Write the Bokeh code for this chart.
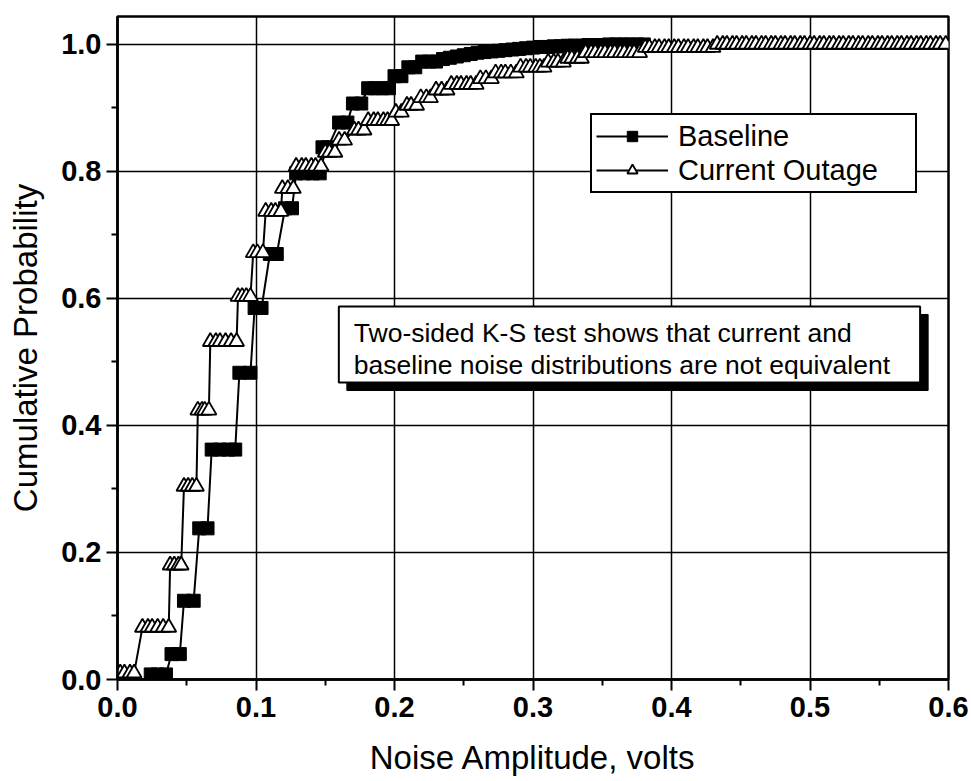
from bokeh.plotting import figure
from bokeh.models import (FixedTicker, PrintfTickFormatter, Range1d, Legend,
                          LegendItem, BoxAnnotation, Label)
from bokeh.embed import file_html
from bokeh.resources import INLINE

# ---------------- data ----------------
# Baseline: cumulative level and the amplitudes plotted at that level
baseline_levels = [0.008, 0.040, 0.124, 0.238, 0.362, 0.483, 0.585, 0.670,
                   0.742, 0.797, 0.838, 0.877, 0.907, 0.931, 0.950, 0.964,
                   0.973, 0.977, 0.979, 0.981, 0.983, 0.985, 0.987, 0.988,
                   0.989, 0.990, 0.991, 0.992, 0.993, 0.994, 0.995, 0.996,
                   0.996, 0.997, 0.997, 0.998, 0.998, 0.998, 0.999, 0.999,
                   0.999, 1.000, 1.000, 1.000, 1.000, 1.000, 1.000]
baseline_x = [[0.024, 0.029, 0.035], [0.039, 0.045], [0.048, 0.055],
              [0.059, 0.065], [0.068, 0.074, 0.080, 0.085], [0.088, 0.096],
              [0.099, 0.104], [0.110, 0.115], [0.121, 0.126],
              [0.129, 0.135, 0.141, 0.146], [0.148, 0.152], [0.160, 0.166],
              [0.170, 0.176], [0.181, 0.186, 0.191, 0.196], [0.200, 0.205],
              [0.210, 0.215], [0.220, 0.225, 0.230], [0.235], [0.240],
              [0.245], [0.250], [0.255], [0.260], [0.265], [0.270], [0.275],
              [0.280], [0.285], [0.290], [0.295], [0.300], [0.305], [0.310],
              [0.315], [0.320], [0.325], [0.330], [0.335], [0.340], [0.345],
              [0.350], [0.355], [0.360], [0.365], [0.370], [0.375], [0.380]]

# Current Outage
outage_levels = [0.010, 0.082, 0.180, 0.304, 0.424, 0.532, 0.603, 0.672,
                 0.737, 0.773, 0.808, 0.830, 0.849, 0.865, 0.880, 0.893,
                 0.904, 0.916, 0.928, 0.937, 0.946, 0.955, 0.964, 0.972,
                 0.978, 0.987, 0.995, 1.000]
outage_x = [[0.002, 0.005, 0.009, 0.012],
            [0.018, 0.022, 0.025, 0.029, 0.033, 0.037],
            [0.038, 0.041, 0.044, 0.046],
            [0.048, 0.051, 0.054, 0.057],
            [0.058, 0.061, 0.063, 0.066],
            [0.067, 0.071, 0.074, 0.078, 0.082, 0.086],
            [0.087, 0.090, 0.093, 0.096],
            [0.098, 0.101, 0.105],
            [0.107, 0.111, 0.114, 0.118],
            [0.119, 0.123, 0.127],
            [0.129, 0.133, 0.136, 0.140, 0.143, 0.147],
            [0.150, 0.153, 0.157],
            [0.160, 0.164],
            [0.171, 0.174, 0.178],
            [0.181, 0.185, 0.188, 0.192, 0.195, 0.198],
            [0.201, 0.205],
            [0.209, 0.212, 0.216],
            [0.219, 0.223, 0.226],
            [0.230, 0.234, 0.238],
            [0.241, 0.245, 0.248, 0.252, 0.255, 0.259],
            [0.262, 0.266, 0.270],
            [0.273, 0.277, 0.280, 0.284, 0.288],
            [0.291, 0.295, 0.298, 0.302, 0.305, 0.308],
            [0.311, 0.315, 0.318, 0.322],
            [0.325, 0.328, 0.332, 0.335],
            [0.338, 0.342, 0.345, 0.349, 0.352, 0.356, 0.359, 0.363, 0.366,
             0.370, 0.373, 0.377],
            [0.381, 0.384, 0.388, 0.391, 0.395, 0.398, 0.402, 0.405, 0.409,
             0.412, 0.416, 0.419, 0.423, 0.426, 0.430],
            [0.433, 0.437, 0.440, 0.444, 0.447, 0.451, 0.454, 0.458, 0.461,
             0.465, 0.468, 0.472, 0.475, 0.479, 0.482, 0.486, 0.489, 0.493,
             0.496, 0.500, 0.503, 0.507, 0.510, 0.514, 0.517, 0.521, 0.524,
             0.528, 0.531, 0.535, 0.538, 0.542, 0.545, 0.549, 0.552, 0.556,
             0.559, 0.563, 0.566, 0.570, 0.573, 0.577, 0.580, 0.584, 0.587,
             0.591, 0.594, 0.598]]

x_ticks = [0.0, 0.1, 0.2, 0.3, 0.4, 0.5, 0.6]
x_minor = [0.05, 0.15, 0.25, 0.35, 0.45, 0.55]
y_ticks = [0.0, 0.2, 0.4, 0.6, 0.8, 1.0]
y_minor = [0.1, 0.3, 0.5, 0.7, 0.9]

x_label = "Noise Amplitude, volts"
y_label = "Cumulative Probability"
series_names = ["Baseline", "Current Outage"]
note_lines = ["Two-sided K-S test shows that current and",
              "baseline noise distributions are not equivalent"]

# ---------------- flatten ----------------
bx = [x for xs in baseline_x for x in xs]
by = [lv for lv, xs in zip(baseline_levels, baseline_x) for _ in xs]
cx = [x for xs in outage_x for x in xs]
cy = [lv for lv, xs in zip(outage_levels, outage_x) for _ in xs]

FONT = "Liberation Sans"

p = figure(width=971, height=781, x_range=Range1d(0, 0.6),
           y_range=Range1d(0, 1.044), output_backend="svg",
           toolbar_location=None, min_border_left=117, min_border_right=23,
           min_border_top=16, min_border_bottom=102)
p.background_fill_color = "white"
p.border_fill_color = "white"
p.outline_line_color = "black"
p.outline_line_width = 2.5
p.outline_line_alpha = 1.0

p.xaxis.ticker = FixedTicker(ticks=x_ticks, minor_ticks=x_minor)
p.yaxis.ticker = FixedTicker(ticks=y_ticks, minor_ticks=y_minor)
p.xaxis.formatter = PrintfTickFormatter(format="%.1f")
p.yaxis.formatter = PrintfTickFormatter(format="%.1f")
for ax in (p.xaxis, p.yaxis):
    ax.axis_line_width = 2.5
    ax.axis_line_color = "black"
    ax.major_tick_line_width = 2
    ax.minor_tick_line_width = 2
    ax.major_tick_line_color = "black"
    ax.minor_tick_line_color = "black"
    ax.major_tick_in = 0
    ax.minor_tick_in = 0
    ax.major_tick_out = 11
    ax.minor_tick_out = 6
    ax.major_label_text_font = FONT
    ax.major_label_text_font_size = "29px"
    ax.major_label_text_font_style = "bold"
    ax.major_label_text_color = "black"
    ax.axis_label_text_font = FONT
    ax.axis_label_text_font_size = "33px"
    ax.axis_label_text_font_style = "normal"
    ax.axis_label_text_color = "black"
p.xaxis.axis_label = x_label
p.yaxis.axis_label = y_label
p.xaxis.major_label_standoff = 6
p.yaxis.major_label_standoff = 5
p.xaxis.axis_label_standoff = 19
p.yaxis.axis_label_standoff = 14

p.xgrid.ticker = FixedTicker(ticks=x_ticks)
p.ygrid.ticker = FixedTicker(ticks=y_ticks)
for g in (p.xgrid, p.ygrid):
    g.grid_line_color = "black"
    g.grid_line_width = 1.5
    g.grid_line_alpha = 1.0

bl_line = p.line(bx, by, line_color="black", line_width=2)
bl_pts = p.scatter(bx, by, marker="square", size=13, fill_color="black",
                   line_color="black", line_width=1)
co_line = p.line(cx, cy, line_color="black", line_width=2)
co_pts = p.scatter(cx, cy, marker="triangle", size=15, fill_color="white",
                   line_color="black", line_width=1.8)

# annotation box with drop shadow
shadow = BoxAnnotation(left=0.1656, right=0.5853, top=0.5748, bottom=0.4551,
                       fill_color="black", fill_alpha=1.0, line_color="black",
                       line_alpha=1.0, line_width=1)
box = BoxAnnotation(left=0.1598, right=0.5795, top=0.5874, bottom=0.4677,
                    fill_color="white", fill_alpha=1.0, line_color="black",
                    line_alpha=1.0, line_width=2)
p.add_layout(shadow)
p.add_layout(box)
for txt, yy in zip(note_lines, [0.545, 0.496]):
    p.add_layout(Label(x=0.1706, y=yy, text=txt, text_font=FONT,
                       text_font_size="26.5px", text_baseline="middle",
                       text_color="black"))

legend = Legend(items=[LegendItem(label=series_names[0], renderers=[bl_line, bl_pts]),
                       LegendItem(label=series_names[1], renderers=[co_line, co_pts])],
                location=(473, 486), border_line_color="black",
                border_line_width=2, border_line_alpha=1.0,
                background_fill_color="white", background_fill_alpha=1.0,
                label_text_font=FONT, label_text_font_size="29px",
                label_text_color="black", glyph_width=72, glyph_height=26,
                label_height=34, label_width=233, label_standoff=10,
                spacing=0, padding=4, margin=0)
p.add_layout(legend, "center")

open("out.html", "w").write(file_html(p, INLINE))
